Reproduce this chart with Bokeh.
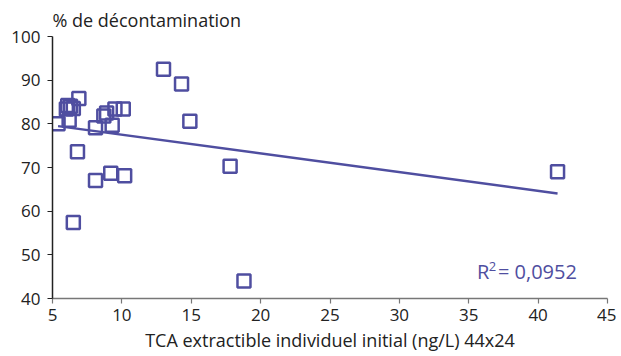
import numpy as np
from bokeh.plotting import figure
from bokeh.models import FixedTicker, Label, Range1d, ColumnDataSource
from bokeh.embed import file_html
from bokeh.resources import INLINE

# Data
tca_initial = [5.4, 6.0, 6.1, 6.3, 6.5, 6.9, 6.2, 6.8, 6.5, 8.1, 9.3, 8.7,
               8.9, 9.5, 10.1, 8.1, 9.2, 10.2, 13.0, 14.3, 14.9, 17.8, 18.8, 41.4]
decontamination = [80.0, 83.4, 84.2, 84.0, 83.5, 85.8, 80.8, 73.6, 57.4, 79.1, 79.7, 81.8,
                   82.5, 83.4, 83.4, 67.0, 68.7, 68.1, 92.5, 89.1, 80.6, 70.3, 44.0, 69.0]
x_ticks = [5, 10, 15, 20, 25, 30, 35, 40, 45]
y_ticks = [40, 50, 60, 70, 80, 90, 100]
r2_text = "= 0,0952"

COLOR = "#4F4EA0"
FONT = "Open Sans"

p = figure(width=616, height=354, output_backend="svg", toolbar_location=None,
           x_range=Range1d(5, 45), y_range=Range1d(40, 100),
           min_border_left=52, min_border_right=9, min_border_top=10, min_border_bottom=6)

p.title.text = "% de décontamination"
p.title.align = "left"
p.title.text_font = FONT
p.title.text_font_size = "18px"
p.title.text_font_style = "normal"
p.title.text_color = "#222222"
p.title.offset = 0
p.title.standoff = 10

p.grid.visible = False
p.outline_line_color = None

for ax in (p.xaxis[0], p.yaxis[0]):
    ax.major_tick_out = 5
    ax.major_tick_in = 0
    ax.minor_tick_out = 0
    ax.minor_tick_in = 0
    ax.major_label_text_font = FONT
    ax.major_label_text_font_size = "17px"
    ax.major_label_text_color = "#222222"
    ax.axis_line_width = 1.5
    ax.major_tick_line_width = 1.2

p.xaxis.ticker = FixedTicker(ticks=x_ticks)
p.yaxis.ticker = FixedTicker(ticks=y_ticks)
p.yaxis.axis_line_color = "#222222"
p.yaxis.major_tick_line_color = "#222222"
p.xaxis.axis_line_color = "#777777"
p.xaxis.major_tick_line_color = "#777777"
p.yaxis.major_label_standoff = 7
p.xaxis.major_label_standoff = 5
p.xaxis.axis_label = "TCA extractible individuel initial (ng/L) 44x24"
p.xaxis.axis_label_text_font = FONT
p.xaxis.axis_label_text_font_size = "18px"
p.xaxis.axis_label_text_font_style = "normal"
p.xaxis.axis_label_text_color = "#222222"
p.xaxis.axis_label_standoff = 4

# linear trend from the data
xs = np.array(tca_initial)
ys = np.array(decontamination)
slope, intercept = np.polyfit(xs, ys, 1)
fit_x = [xs.min(), xs.max()]
fit_y = [slope * v + intercept for v in fit_x]
p.line(fit_x, fit_y, line_color=COLOR, line_width=2.5)

src = ColumnDataSource(dict(x=tca_initial, y=decontamination))
p.scatter("x", "y", source=src, marker="square", size=13, fill_color="white",
          fill_alpha=0.0, line_color=COLOR, line_width=2.5)

p.add_layout(Label(x=35.6, y=43.2, text="R", text_font=FONT, text_font_size="20px",
                   text_color=COLOR))
p.add_layout(Label(x=36.45, y=46.2, text="2", text_font=FONT, text_font_size="13px",
                   text_color=COLOR))
p.add_layout(Label(x=37.1, y=43.2, text=r2_text, text_font=FONT, text_font_size="20px",
                   text_color=COLOR))

open("out.html", "w").write(file_html(p, INLINE))
